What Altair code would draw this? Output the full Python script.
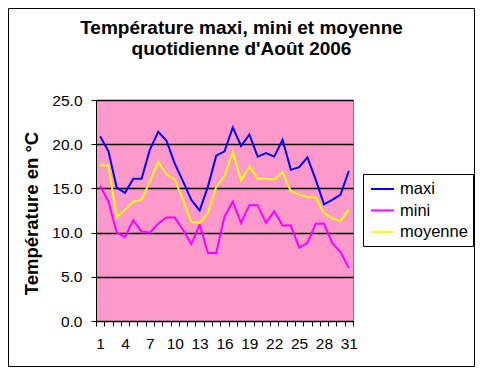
import altair as alt
import pandas as pd

days = list(range(1, 32))
maxi = [20.9, 19.2, 15.1, 14.5, 16.1, 16.1, 19.4, 21.4, 20.4, 17.8, 15.8, 13.7, 12.5, 15.2, 18.7, 19.2,
        21.9, 19.8, 21.1, 18.6, 19.0, 18.6, 20.5, 17.1, 17.4, 18.5, 16.0, 13.2, 13.7, 14.3, 17.0]
mini = [15.3, 13.5, 10.0, 9.5, 11.4, 10.1, 10.0, 11.0, 11.7, 11.7, 10.3, 8.7, 10.9, 7.7, 7.7, 11.8,
        13.5, 11.1, 13.1, 13.1, 11.1, 12.4, 10.8, 10.8, 8.3, 8.8, 11.0, 11.0, 8.8, 7.8, 6.0]
moyenne = [17.6, 17.6, 11.7, 12.6, 13.5, 13.7, 15.8, 18.0, 16.6, 16.0, 13.7, 11.2, 11.1, 12.2, 15.2, 16.4,
           19.1, 15.9, 17.5, 16.1, 16.1, 16.0, 16.8, 14.7, 14.3, 14.0, 14.0, 12.2, 11.6, 11.3, 12.6]
series_names = ["maxi", "mini", "moyenne"]
series_colors = ["#0000FF", "#FF00FF", "#FFFF00"]
y_ticks = [0, 5, 10, 15, 20, 25]
title_lines = ["Température maxi, mini et moyenne", "quotidienne d'Août 2006"]
y_title = "Température en °C"

df = pd.DataFrame({"jour": days, "maxi": maxi, "mini": mini, "moyenne": moyenne})
long = df.melt(id_vars="jour", var_name="serie", value_name="temp")

FONT = "Liberation Sans"
W, H = 257, 221
PL, PT = 88, 92
TOTAL_W, TOTAL_H = 467, 359

lines = alt.Chart(long).mark_line(strokeWidth=2).encode(
    x=alt.X("jour:O",
            scale=alt.Scale(type="band", paddingInner=0, paddingOuter=0),
            axis=alt.Axis(title=None, labelAngle=0, tickBand="extent", tickSize=5,
                          tickColor="black", domainColor="black", labelColor="black",
                          labelFontSize=15.5, labelFont=FONT, labelPadding=10,
                          labelExpr="(datum.value - 1) % 3 == 0 ? datum.label : ''",
                          grid=False)),
    y=alt.Y("temp:Q",
            scale=alt.Scale(domain=[0, 25], nice=False),
            axis=alt.Axis(values=y_ticks, format=".1f", title=y_title,
                          titleFont=FONT, titleFontSize=18.5, titleFontWeight="bold",
                          titleColor="black", titleAngle=-90, titleX=-65, titleY=113,
                          titleAlign="center", titleBaseline="middle",
                          labelFont=FONT, labelFontSize=15.5, labelColor="black",
                          labelPadding=9, tickSize=5, tickColor="black",
                          domainColor="black", grid=True, gridColor="black",
                          gridWidth=1.5)),
    color=alt.Color("serie:N",
                    scale=alt.Scale(domain=series_names, range=series_colors),
                    legend=alt.Legend(title=None, orient="none", legendX=274, legendY=76.5,
                                      padding=0, symbolType="stroke", symbolSize=529,
                                      symbolStrokeWidth=2, labelFont=FONT,
                                      labelFontSize=16.5, labelColor="black",
                                      labelOffset=5, rowPadding=0.5)),
)

legend_box = alt.Chart(pd.DataFrame({"t": [0]})).mark_rect(
    fill="white", stroke="black", strokeWidth=1
).encode(x=alt.value(267.5), x2=alt.value(377.5), y=alt.value(74.5), y2=alt.value(146.5))

title = alt.Chart(pd.DataFrame({"t": [0]})).mark_text(
    text=title_lines, font=FONT, fontSize=19, fontWeight="bold", color="black",
    align="center", baseline="alphabetic", lineHeight=21.5
).encode(x=alt.value(145.5), y=alt.value(-66.5))

border = alt.Chart(pd.DataFrame({"t": [0]})).mark_rect(
    fill=None, stroke="black", strokeWidth=1
).encode(x=alt.value(-PL + 0.5), x2=alt.value(TOTAL_W - PL - 0.5),
         y=alt.value(-PT + 0.5), y2=alt.value(TOTAL_H - PT - 0.5))

chart = alt.layer(lines, legend_box, title, border).properties(
    width=W, height=H,
    autosize=alt.AutoSizeParams(type="none"),
    padding={"left": PL, "top": PT, "right": TOTAL_W - PL - W, "bottom": TOTAL_H - PT - H},
    background="white",
).configure_view(fill="#FF99CC", stroke="#808080", strokeWidth=1)

chart.save("out.html", embed_options={"renderer": "svg", "actions": False})
